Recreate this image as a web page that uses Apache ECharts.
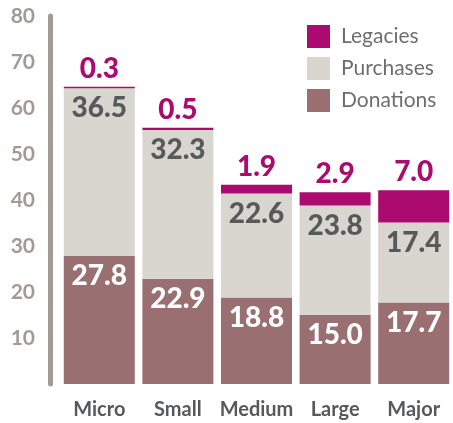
<!DOCTYPE html>
<html>
<head>
<meta charset="utf-8">
<script src="https://cdn.jsdelivr.net/npm/echarts@6/dist/echarts.min.js"></script>
<style>
  html, body { margin: 0; padding: 0; background: #fff; }
  #chart { width: 453px; height: 423px; }
</style>
</head>
<body>
<div id="chart"></div>
<script>
// 数据
var categories = ['Micro', 'Small', 'Medium', 'Large', 'Major'];
var donations = [27.8, 22.9, 18.8, 15.0, 17.7];
var purchases = [36.5, 32.3, 22.6, 23.8, 17.4];
var legacies = [0.3, 0.5, 1.9, 2.9, 7.0];
var yTicks = [10, 20, 30, 40, 50, 60, 70, 80];

var chart = echarts.init(document.getElementById('chart'));

var valueFont = {
  fontFamily: 'Lato',
  fontWeight: 900,
  fontSize: 28
};

function fmt(p) { return p.value.toFixed(1); }

var option = {
  animation: false,
  grid: { left: 60, right: -11, top: 16, bottom: 39 },
  legend: {
    orient: 'vertical',
    left: 302,
    top: 20,
    itemWidth: 23,
    itemHeight: 23,
    itemGap: 9,
    icon: 'rect',
    data: ['Legacies', 'Purchases', 'Donations'],
    textStyle: { fontFamily: 'Lato', fontSize: 21, color: '#6d6e70', padding: [0, 0, 0, 6] }
  },
  xAxis: {
    type: 'category',
    data: categories,
    axisLine: { show: false },
    axisTick: { show: false },
    axisLabel: {
      interval: 0,
      hideOverlap: false,
      margin: 16,
      fontFamily: 'Lato',
      fontWeight: 'bold',
      fontSize: 20,
      color: '#58595b'
    }
  },
  yAxis: {
    type: 'value',
    min: 0,
    max: 80,
    interval: 10,
    offset: 10,
    splitLine: { show: false },
    axisTick: { show: false },
    axisLine: { show: true, lineStyle: { color: '#a39a95', width: 5 } },
    axisLabel: {
      margin: 15,
      fontFamily: 'Lato',
      fontWeight: 'bold',
      fontSize: 21,
      color: '#a39a95',
      formatter: function (v) { return yTicks.indexOf(v) >= 0 ? String(v) : ''; }
    }
  },
  series: [
    {
      name: 'Donations',
      type: 'bar',
      stack: 'total',
      barWidth: 71,
      data: donations,
      itemStyle: { color: '#9a6f71' },
      label: Object.assign({ show: true, position: 'insideTop', distance: 6, color: '#ffffff', formatter: fmt }, valueFont)
    },
    {
      name: 'Purchases',
      type: 'bar',
      stack: 'total',
      barWidth: 71,
      data: purchases,
      itemStyle: { color: '#d9d6cf' },
      label: Object.assign({ show: true, position: 'insideTop', distance: 6, color: '#58595b', formatter: fmt }, valueFont)
    },
    {
      name: 'Legacies',
      type: 'bar',
      stack: 'total',
      barWidth: 71,
      data: legacies,
      itemStyle: { color: '#ab0a6e' },
      label: Object.assign({ show: true, position: 'top', distance: 4, color: '#ab0a6e', formatter: fmt }, valueFont)
    }
  ]
};

chart.setOption(option);
</script>
</body>
</html>
